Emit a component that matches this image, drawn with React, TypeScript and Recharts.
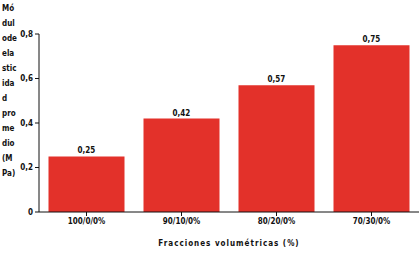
import { BarChart, Bar, XAxis, YAxis, LabelList, Label } from "recharts";

const categories = ["100/0/0%", "90/10/0%", "80/20/0%", "70/30/0%"];
const modulo = [0.25, 0.42, 0.57, 0.75];
const yTicks = [0, 0.2, 0.4, 0.6, 0.8];
const yTitleLines = ["Mó", "dul", "ode", "ela", "stic", "ida", "d", "pro", "me", "dio", "(M", "Pa)"];

const data = categories.map((name, i) => ({ name, value: modulo[i] }));

const FONT = "'DejaVu Sans Condensed', 'DejaVu Sans', sans-serif";
const fmt = (v: number) => (v === 0 ? "0" : v.toFixed(1).replace(".", ","));

function YTitle() {
  return (
    <text x={2} y={11} fontFamily={FONT} fontSize={8} fontWeight="bold" fill="#111">
      {yTitleLines.map((t, i) => (
        <tspan key={i} x={2} dy={i === 0 ? 0 : 15}>
          {t}
        </tspan>
      ))}
    </text>
  );
}

export default function App() {
  return (
    <div style={{ position: "absolute", left: 0, top: 0, background: "#fff" }}>
      <BarChart
        width={419}
        height={253}
        data={data}
        margin={{ top: 34, right: 0, left: 0, bottom: 0 }}
        barCategoryGap="10%"
      >
        <XAxis
          dataKey="name"
          height={41}
          tickSize={4}
          tickMargin={2}
          stroke="#111"
          tickLine={{ stroke: "#111" }}
          tick={{ fontFamily: FONT, fontSize: 8, fontWeight: "bold", fill: "#111" }}
        >
          <Label
            value="Fracciones volumétricas (%)"
            position="insideBottom"
            offset={7}
            style={{ fontFamily: FONT, fontSize: 8, fontWeight: "bold", fill: "#111", letterSpacing: 1 }}
          />
        </XAxis>
        <YAxis
          width={39}
          domain={[0, 0.8]}
          ticks={yTicks}
          tickFormatter={fmt}
          tickSize={4}
          tickMargin={2}
          stroke="#111"
          tick={{ fontFamily: FONT, fontSize: 8, fontWeight: "bold", fill: "#111" }}
        >
          <Label content={() => <YTitle />} />
        </YAxis>
        <Bar dataKey="value" fill="#e3312a" isAnimationActive={false}>
          <LabelList
            dataKey="value"
            position="top"
            offset={3}
            formatter={(v: any) => Number(v).toFixed(2).replace(".", ",")}
            style={{ fontFamily: FONT, fontSize: 8, fontWeight: "bold", fill: "#111" }}
          />
        </Bar>
      </BarChart>
    </div>
  );
}
